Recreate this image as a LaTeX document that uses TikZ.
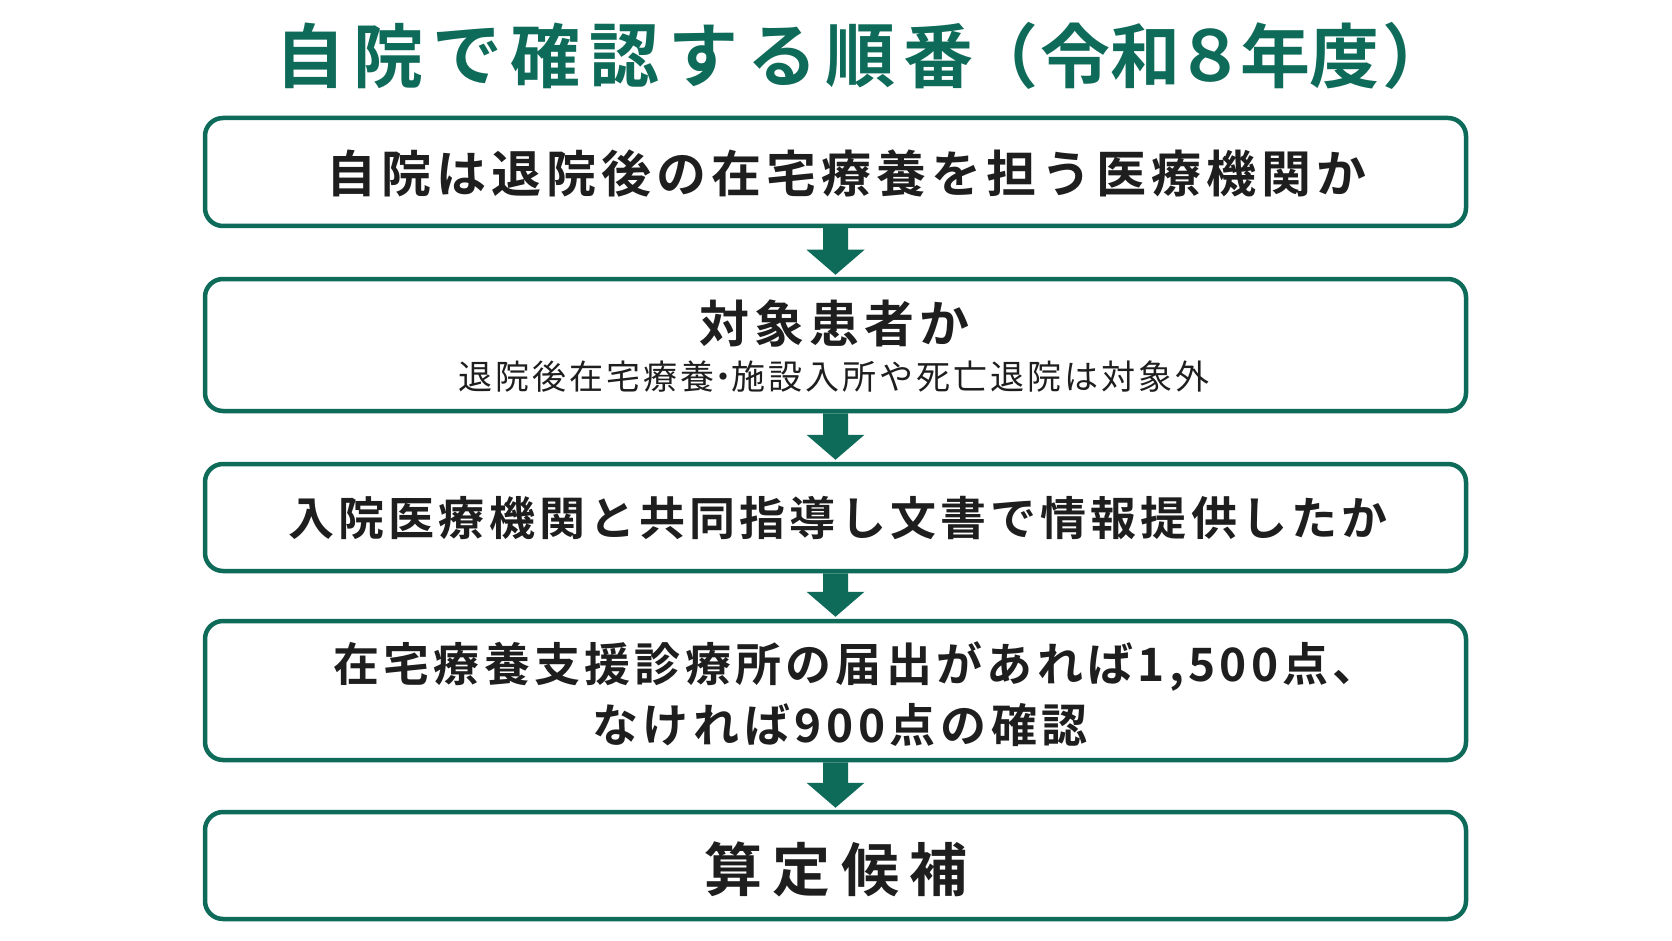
\documentclass[tikz,border=0pt]{standalone}
\usepackage{fontspec}
\setmainfont{Noto Sans CJK JP}[BoldFont={Noto Sans CJK JP Bold}]
\usetikzlibrary{calc}
\definecolor{teal}{HTML}{0E6B5A}
\definecolor{ink}{HTML}{1E1E1E}
\tikzset{
  flowbox/.style={draw=teal, line width=4.5pt, rounded corners=18pt, fill=white,
    minimum width=1261pt, inner sep=0pt},
  boxtext/.style={text=ink, font=\bfseries, inner sep=0pt},
  titletext/.style={text=teal, font=\bfseries\fontsize{70}{80}\selectfont\addfontfeature{RawFeature=+palt}, inner sep=0pt},
}
\newcommand\flowarrow[2]{%
  \fill[teal] let \p1=(#1.south), \p2=(#2.north) in
    (\x1-12.5pt,\y1) -- (\x1+12.5pt,\y1) -- (\x1+12.5pt,\y2+27pt) -- (\x1+29pt,\y2+27pt)
    -- (\x1,\y2+2pt) -- (\x1-29pt,\y2+27pt) -- (\x1-12.5pt,\y2+27pt) -- cycle;}
\begin{document}
\begin{tikzpicture}[x=1pt,y=-1pt]
\fill[white] (0,0) rectangle (1672,941);
\useasboundingbox (0,0) rectangle (1672,941);
\foreach \ch/\cx [count=\i] in {自/310,院/388.6,で/467.2,確/545.8,認/624.4,す/703,る/781.6,順/860.2,番/938.8,（/1018,令/1075,和/1145,８/1210,年/1275,度/1344,）/1403}
  \node[titletext] (title\i) at (\cx,56) {\ch};
\node[flowbox, minimum height=108pt] (b1) at (835.5,172) {};
\node[flowbox, minimum height=132pt] (b2) at (835.5,345) {};
\node[flowbox, minimum height=107pt] (b3) at (835.5,517.5) {};
\node[flowbox, minimum height=139pt] (b4) at (835.5,690.5) {};
\node[flowbox, minimum height=107pt] (b5) at (835.5,865.5) {};
\flowarrow{b1}{b2}
\flowarrow{b2}{b3}
\flowarrow{b3}{b4}
\flowarrow{b4}{b5}
\node[boxtext, font=\bfseries\fontsize{50}{60}\selectfont\addfontfeature{LetterSpace=10}] (t1) at (846,174) {自院は退院後の在宅療養を担う医療機関か};
\node[boxtext, font=\bfseries\fontsize{50}{60}\selectfont\addfontfeature{LetterSpace=10}] (t2) at (834,323) {対象患者か};
\node[boxtext, font=\fontsize{34}{40}\selectfont\addfontfeature{LetterSpace=8.8}] (t2s) at (834,377) {退院後在宅療養{\addfontfeature{RawFeature=+palt}・}施設入所や死亡退院は対象外};
\node[boxtext, font=\bfseries\fontsize{46}{56}\selectfont\addfontfeature{LetterSpace=9}] (t3) at (838,518) {入院医療機関と共同指導し文書で情報提供したか};
\node[boxtext, font=\bfseries\fontsize{46}{56}\selectfont\addfontfeature{LetterSpace=9.3}] (t4a) at (856,666) {在宅療養支援診療所の届出があれば1,500点、};
\node[boxtext, font=\bfseries\fontsize{46}{56}\selectfont\addfontfeature{LetterSpace=10}] (t4b) at (840,725) {なければ900点の確認};
\node[boxtext, font=\bfseries\fontsize{58}{68}\selectfont\addfontfeature{LetterSpace=18}] (t5) at (836,869) {算定候補};
\end{tikzpicture}
\end{document}
